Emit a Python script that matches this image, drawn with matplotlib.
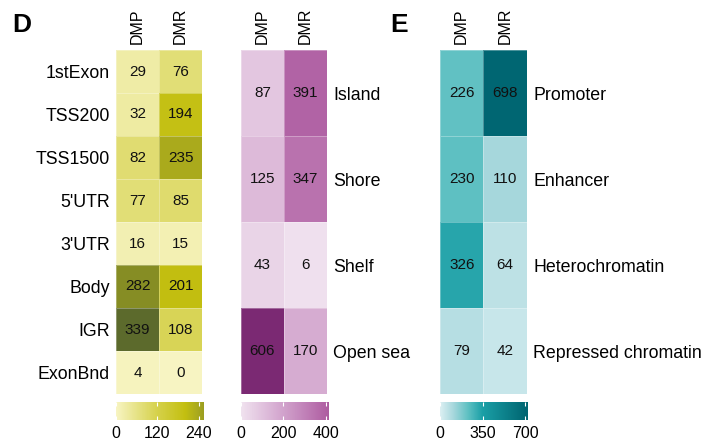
import numpy as np
import matplotlib as mpl
import matplotlib.pyplot as plt
from matplotlib.colors import LinearSegmentedColormap, Normalize
from matplotlib.cm import ScalarMappable

plt.rcParams['font.family'] = ['Liberation Sans', 'DejaVu Sans']

# data
columns = ['DMP', 'DMR']

gene_regions = ['1stExon', 'TSS200', 'TSS1500', "5'UTR", "3'UTR", 'Body', 'IGR', 'ExonBnd']
gene_dmp = [29, 32, 82, 77, 16, 282, 339, 4]
gene_dmr = [76, 194, 235, 85, 15, 201, 108, 0]

cpg_regions = ['Island', 'Shore', 'Shelf', 'Open sea']
cpg_dmp = [87, 125, 43, 606]
cpg_dmr = [391, 347, 6, 170]

chrom_states = ['Promoter', 'Enhancer', 'Heterochromatin', 'Repressed chromatin']
chrom_dmp = [226, 230, 326, 79]
chrom_dmr = [698, 110, 64, 42]

W, H = 712, 440


def px_axes(fig, x0, y0, x1, y1):
    return fig.add_axes([x0 / W, 1 - y1 / H, (x1 - x0) / W, (y1 - y0) / H])


def make_cmap(stops, vmax):
    return LinearSegmentedColormap.from_list('c', [(v / vmax, c) for v, c in stops])


def heatmap(fig, box, rows, dmp, dmr, cmap, vmax, labels_side):
    ax = px_axes(fig, *box)
    vals = np.array([dmp, dmr]).T
    norm = Normalize(0, vmax)
    ax.pcolormesh(np.arange(3), np.arange(len(rows) + 1), vals, cmap=cmap, norm=norm,
                  edgecolors=(1, 1, 1, 0.3), linewidth=0.6)
    ax.set_xlim(0, 2)
    ax.set_ylim(len(rows), 0)
    for i in range(len(rows)):
        for j in range(2):
            ax.text(j + 0.5, i + 0.5, str(vals[i, j]), ha='center', va='center',
                    fontsize=11, color='#111111')
    ax.set_xticks([0.5, 1.5])
    ax.set_xticklabels(columns, rotation=90, fontsize=11.5)
    ax.xaxis.tick_top()
    ax.set_yticks(np.arange(len(rows)) + 0.5)
    ax.set_yticklabels(rows, fontsize=12.8)
    if labels_side == 'right':
        ax.yaxis.tick_right()
    ax.tick_params(length=0, pad=4.5)
    for s in ax.spines.values():
        s.set_visible(False)
    return norm


def colorbar(fig, box, cmap, norm, top, ticks):
    cax = px_axes(fig, *box)
    sm = ScalarMappable(norm=norm, cmap=cmap)
    cb = fig.colorbar(sm, cax=cax, orientation='horizontal',
                      boundaries=np.linspace(0, top, 300), ticks=ticks)
    cb.outline.set_visible(False)
    cax.tick_params(direction='in', length=3, width=0.8, color='white',
                    top=True, bottom=True, labelsize=11.5, pad=4)


fig = plt.figure(figsize=(W / 100, H / 100), dpi=100)

yellow = make_cmap([(0, '#f7f4c2'), (120, '#d5d14a'), (200, '#c3bf10'),
                    (240, '#a6a71e'), (340, '#5c6a2c')], 340)
pink = make_cmap([(0, '#f0e2ef'), (200, '#d1a2cc'), (400, '#b060a3'),
                  (610, '#7a2872')], 610)
teal = make_cmap([(0, '#dbeff2'), (110, '#a6d7dc'), (230, '#5ec0c2'),
                  (350, '#1a9fa6'), (700, '#006672')], 700)

n1 = heatmap(fig, (116, 50, 202, 394), gene_regions, gene_dmp, gene_dmr, yellow, 340, 'left')
n2 = heatmap(fig, (241, 50, 327, 394), cpg_regions, cpg_dmp, cpg_dmr, pink, 610, 'right')
n3 = heatmap(fig, (440, 50, 527, 394), chrom_states, chrom_dmp, chrom_dmr, teal, 700, 'right')

colorbar(fig, (116, 402, 204, 420), yellow, n1, 255, [0, 120, 240])
colorbar(fig, (241, 402, 329, 420), pink, n2, 415, [0, 200, 400])
colorbar(fig, (440, 402, 528, 420), teal, n3, 722, [0, 350, 700])

fig.text(22 / W, 1 - 25 / H, 'D', fontsize=19, fontweight='bold', ha='center', va='center')
fig.text(399 / W, 1 - 25 / H, 'E', fontsize=19, fontweight='bold', ha='center', va='center')

plt.savefig('out.png', dpi=100)
